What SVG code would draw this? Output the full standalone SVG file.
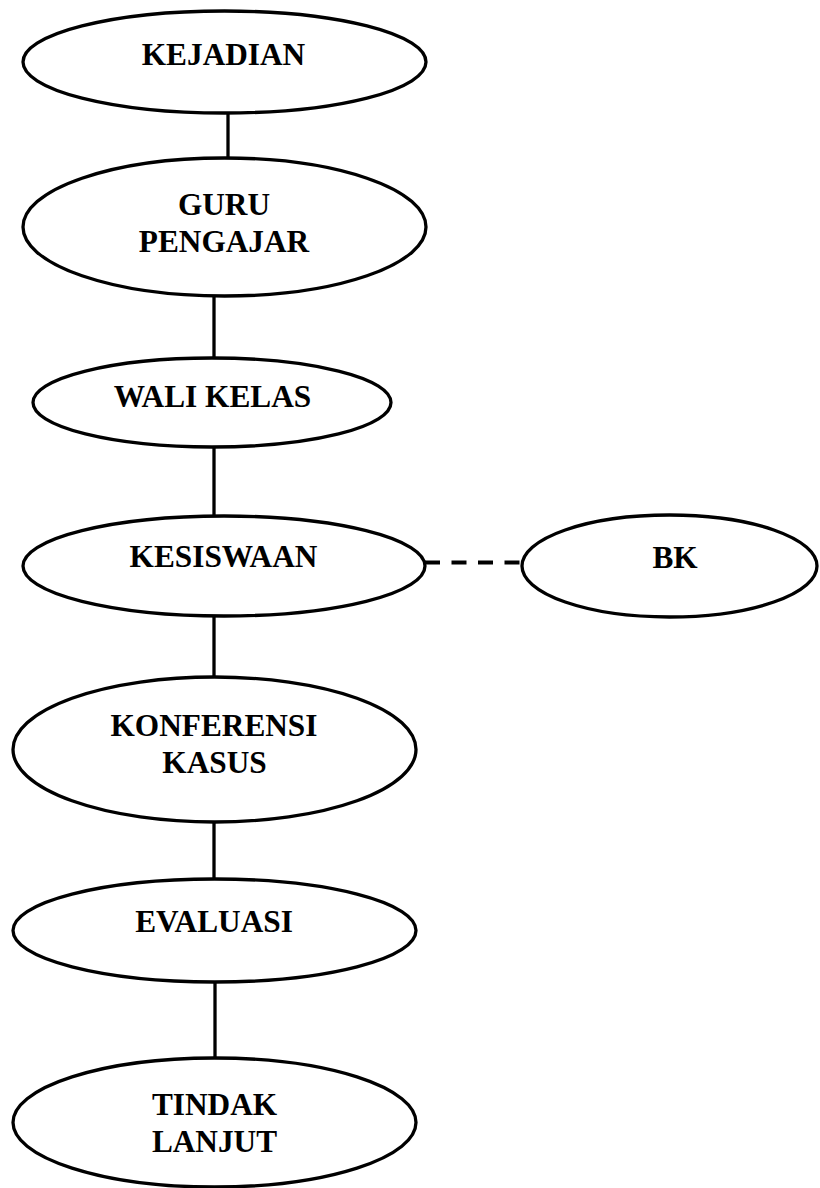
<svg xmlns="http://www.w3.org/2000/svg" width="820" height="1188" viewBox="0 0 820 1188">
<style>
.n{fill:#fff;stroke:#000;stroke-width:3.3}
.t{font-family:"Liberation Serif","Times New Roman",serif;font-weight:bold;font-size:31.3px;fill:#000;text-anchor:middle}
.c{stroke:#000;stroke-width:3.3;fill:none}
.d{stroke-width:4;stroke-dasharray:15 11.5}
</style>
<rect width="820" height="1188" fill="#fff"/>
<g id="connectors">
<line class="c" x1="228" y1="112" x2="228" y2="159"/>
<line class="c" x1="214" y1="295" x2="214" y2="359"/>
<line class="c" x1="214" y1="446" x2="214" y2="517"/>
<line class="c" x1="214" y1="615" x2="214" y2="678"/>
<line class="c" x1="214" y1="821" x2="214" y2="880"/>
<line class="c" x1="215" y1="981" x2="215" y2="1059"/>
<line class="c d" x1="425" y1="562.5" x2="522" y2="562.5"/>
</g>
<g id="kejadian"><ellipse class="n" cx="224.5" cy="62" rx="201.5" ry="51"/><text class="t" x="223.5" y="65">KEJADIAN</text></g>
<g id="guru-pengajar"><ellipse class="n" cx="224.5" cy="227" rx="201.5" ry="69"/><text class="t" x="224" y="215">GURU</text><text class="t" x="224" y="252">PENGAJAR</text></g>
<g id="wali-kelas"><ellipse class="n" cx="212" cy="402.5" rx="179" ry="44.5"/><text class="t" x="212.5" y="407">WALI KELAS</text></g>
<g id="kesiswaan"><ellipse class="n" cx="224" cy="566" rx="201" ry="50"/><text class="t" x="223.5" y="567">KESISWAAN</text></g>
<g id="bk"><ellipse class="n" cx="669.5" cy="566" rx="147.5" ry="51"/><text class="t" x="675" y="568">BK</text></g>
<g id="konferensi-kasus"><ellipse class="n" cx="214.5" cy="749.5" rx="201.5" ry="72.5"/><text class="t" x="214" y="736">KONFERENSI</text><text class="t" x="214.5" y="773">KASUS</text></g>
<g id="evaluasi"><ellipse class="n" cx="214.5" cy="930.5" rx="201.5" ry="51.5"/><text class="t" x="214" y="932">EVALUASI</text></g>
<g id="tindak-lanjut"><ellipse class="n" cx="214.5" cy="1122.5" rx="201.5" ry="64.5"/><text class="t" x="214.5" y="1115">TINDAK</text><text class="t" x="214.5" y="1152">LANJUT</text></g>
</svg>
